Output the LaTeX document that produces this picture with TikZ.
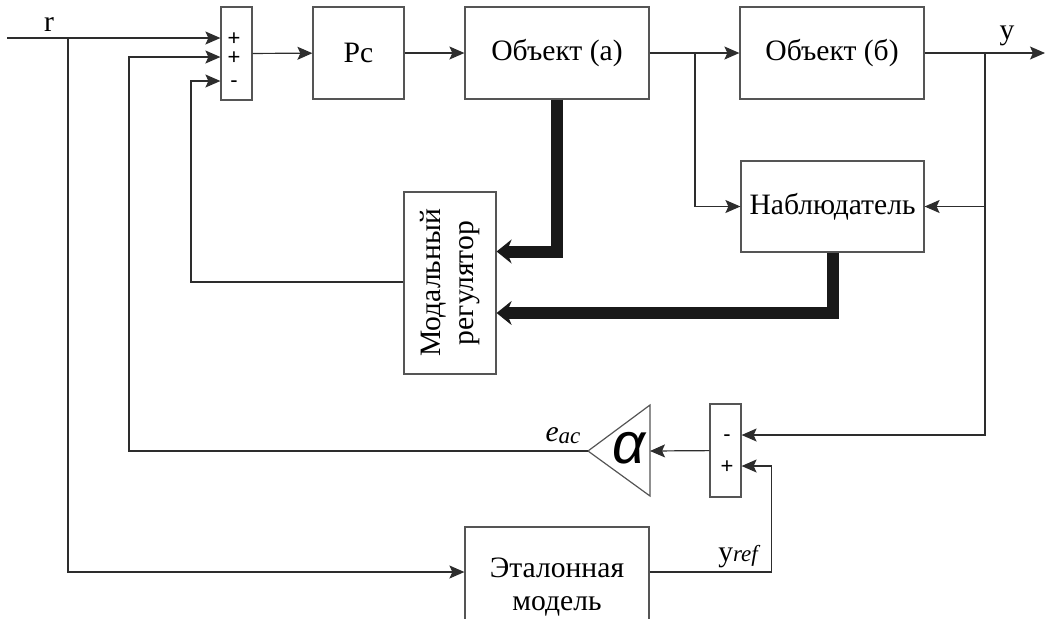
\documentclass[tikz,border=0pt]{standalone}
\usepackage{fontspec}
\setmainfont{Liberation Serif}
\newfontfamily\signfont{Liberation Sans}
\usepackage{tikz}
\usetikzlibrary{arrows.meta, positioning, calc}
\definecolor{linegray}{RGB}{45,45,45}
\definecolor{boxgray}{RGB}{85,85,85}

\begin{document}
\begin{tikzpicture}[
  x=0.5pt, y=-0.5pt,
  font=\fontsize{14.8}{16.5}\selectfont,
  block/.style={rectangle, draw=boxgray, line width=0.6pt, minimum width=92pt,
                minimum height=46pt, inner sep=2pt, align=center},
  sum/.style={rectangle, draw=boxgray, line width=0.6pt, minimum width=15.5pt,
              minimum height=46.5pt, inner sep=0pt},
  sign/.style={font=\signfont\fontsize{11}{11}\selectfont, inner sep=0pt,
               text height=7pt, text depth=0pt},
  sig/.style={draw=linegray, line width=0.6pt,
              -{Stealth[length=7.5pt, width=6.5pt, inset=1.5pt]}},
  bus/.style={draw=black!90, line width=6pt,
              -{Stealth[length=7.5pt, width=12pt, inset=2.5pt]}},
]
\useasboundingbox (0,0) rectangle (1045,618);
% blocks
\node[sum]   (sumA)     at (236.5,53.5) {};
\node[block, minimum width=45.5pt] (pc) at (358.5,53) {Рс};
\node[block] (objA)     at (557,53)    {Объект (а)};
\node[block] (objB)     at (832,53)    {Объект (б)};
\node[block, minimum width=91.5pt, minimum height=45.5pt] (observer) at (832.5,206.5) {Наблюдатель};
\node[block, rotate=90, minimum width=91pt, minimum height=46pt] (modal) at (450,283) {Модальный\\регулятор};
\node[sum]   (sumB)     at (725.5,450.5) {};
\node[block, minimum height=60pt] (refmodel) at (557,587) {Эталонная\\модель};
% gain
\coordinate (gainapex) at (588,451);
\coordinate (gainbase) at (650,451);
\draw[draw=boxgray, line width=0.6pt] (650,405) -- (gainapex) -- (650,496) -- cycle;
\node[font=\signfont\itshape\fontsize{29}{29}\selectfont, inner sep=0pt] (alpha) at (629,448) {α};
% signs
\node[sign] (sA1) at (234,38) {+};
\node[sign] (sA2) at (234,57) {+};
\node[sign] (sA3) at (234,80) {-};
\node[sign] (sB1) at (727,434) {-};
\node[sign] (sB2) at (727,466) {+};
% labels
\node (rlabel) at (49,25) {r};
\node (ylabel) at (1007,36) {y};
\node (eac) at (563,436) {\itshape e\raisebox{-1pt}{\fontsize{11.5}{11.5}\selectfont ac}};
\node (yref) at (738,557) {y{\fontsize{11.5}{11.5}\selectfont\itshape ref}};
% branch points
\coordinate (rin)  at (7,38);
\coordinate (rbr)  at (68,38);
\coordinate (abr)  at (695,53);
\coordinate (ybr)  at (985,53);
\coordinate (yout) at (1045,53);
% signals
\draw[sig] (rin) -- (sumA.west |- rin);
\draw[sig] (rbr) |- ([yshift=7.5pt]refmodel.west);
\draw[sig] (sumA) -- (pc);
\draw[sig] (pc) -- (objA);
\draw[sig] (objA) -- (objB);
\draw[sig] (abr) |- (observer.west);
\draw[sig] (objB) -- (yout);
\draw[sig] (ybr) |- (observer.east);
\draw[sig] (ybr) |- ([yshift=7.75pt]sumB.east);
\draw[sig] ([yshift=7.5pt]refmodel.east) -| ([xshift=15pt,yshift=-7.75pt]sumB.east)
  -- ([yshift=-7.75pt]sumB.east);
\draw[sig] (sumB) -- (gainbase);
\draw[sig] (gainapex) -| (129,57) -- (sumA.west |- 0,57);
\draw[sig] (modal.north |- 0,282) -| (191,81) -- (sumA.west |- 0,81);
% state feedback
\draw[bus] (objA.south) |- (modal.south |- 0,251.5);
\draw[bus] (observer.south) |- (modal.south |- 0,313);
\end{tikzpicture}
\end{document}
